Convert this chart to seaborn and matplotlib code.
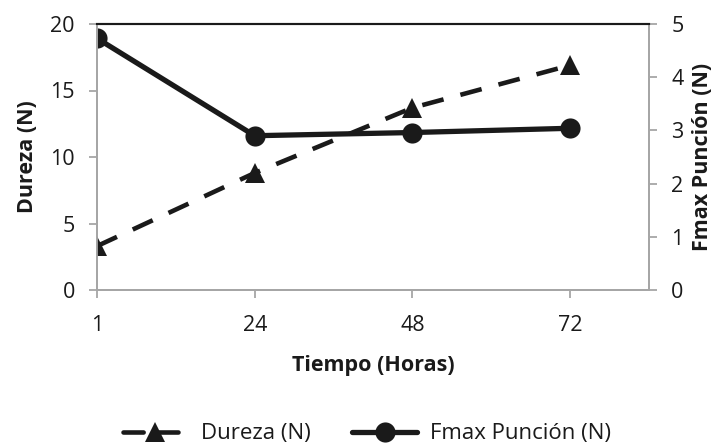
import matplotlib
matplotlib.use("Agg")
import matplotlib.pyplot as plt
import numpy as np
import pandas as pd
import seaborn as sns
from matplotlib.lines import Line2D

# datos
tiempo = ["1", "24", "48", "72"]
dureza = [3.3, 8.8, 13.7, 16.9]
fmax_puncion = [4.73, 2.90, 2.96, 3.04]

sns.set_theme(style="white")
plt.rcParams["font.family"] = ["Open Sans", "DejaVu Sans"]

df = pd.DataFrame({
    "pos": np.arange(len(tiempo)),
    "dureza": dureza,
    "fmax": fmax_puncion,
})

INK = "#1a1a1a"
GRIS = "#a6a6a6"

fig = plt.figure(figsize=(7.25, 4.47), dpi=100)
ax = fig.add_axes([97 / 725, 1 - 290 / 447, (649 - 97) / 725, (290 - 24) / 447])
ax2 = ax.twinx()

sns.lineplot(data=df, x="pos", y="dureza", ax=ax, color=INK, linewidth=3.3,
             marker="^", markersize=14, markeredgewidth=0, legend=False)
ax.lines[0].set_dashes((4.8, 3.8))
ax.lines[0].set_dash_capstyle("butt")

sns.lineplot(data=df, x="pos", y="fmax", ax=ax2, color=INK, linewidth=3.8,
             marker="o", markersize=14.5, markeredgewidth=0, legend=False)

ax.set_xlim(0, 3.5)
ax.set_ylim(0, 20)
ax2.set_ylim(0, 5)
ax.set_yticks([0, 5, 10, 15, 20])
ax2.set_yticks([0, 1, 2, 3, 4, 5])
ax.set_xticks(df["pos"])
ax.set_xticklabels(tiempo)

for a in (ax, ax2):
    for s in ("left", "right", "bottom"):
        a.spines[s].set_color(GRIS)
        a.spines[s].set_linewidth(1.3)
    a.spines["top"].set_color(INK)
    a.spines["top"].set_linewidth(1.5)
    a.tick_params(axis="both", colors=GRIS, length=6, width=1.3,
                  direction="out", labelsize=15.5, labelcolor=INK, pad=10)
ax.tick_params(axis="x", pad=12)
ax.tick_params(axis="both", left=True, bottom=True)
ax2.tick_params(axis="y", right=True)
ax.set_zorder(ax2.get_zorder() + 1)
ax.patch.set_visible(False)

ax.set_xlabel("Tiempo (Horas)", fontsize=15.5, fontweight="bold", color=INK, labelpad=14)
ax.set_ylabel("Dureza (N)", fontsize=15.5, fontweight="bold", color=INK, labelpad=9)
ax2.set_ylabel("Fmax Punción (N)", fontsize=15.5, fontweight="bold", color=INK, labelpad=6)

handles = [
    Line2D([], [], color=INK, linewidth=3.3, dashes=(4.4, 3.2), marker="^",
           markersize=14, markeredgewidth=0, dash_capstyle="round"),
    Line2D([], [], color=INK, linewidth=3.8, marker="o",
           markersize=14.5, markeredgewidth=0),
]
fig.legend(handles, ["Dureza (N)", "Fmax Punción (N)"], loc="center",
           bbox_to_anchor=(367 / 725, 1 - 434 / 447), ncol=2, frameon=False,
           fontsize=16, handlelength=2.9, handletextpad=0.6, columnspacing=1.9,
           labelcolor=INK)

fig.savefig("out.png", dpi=100)
